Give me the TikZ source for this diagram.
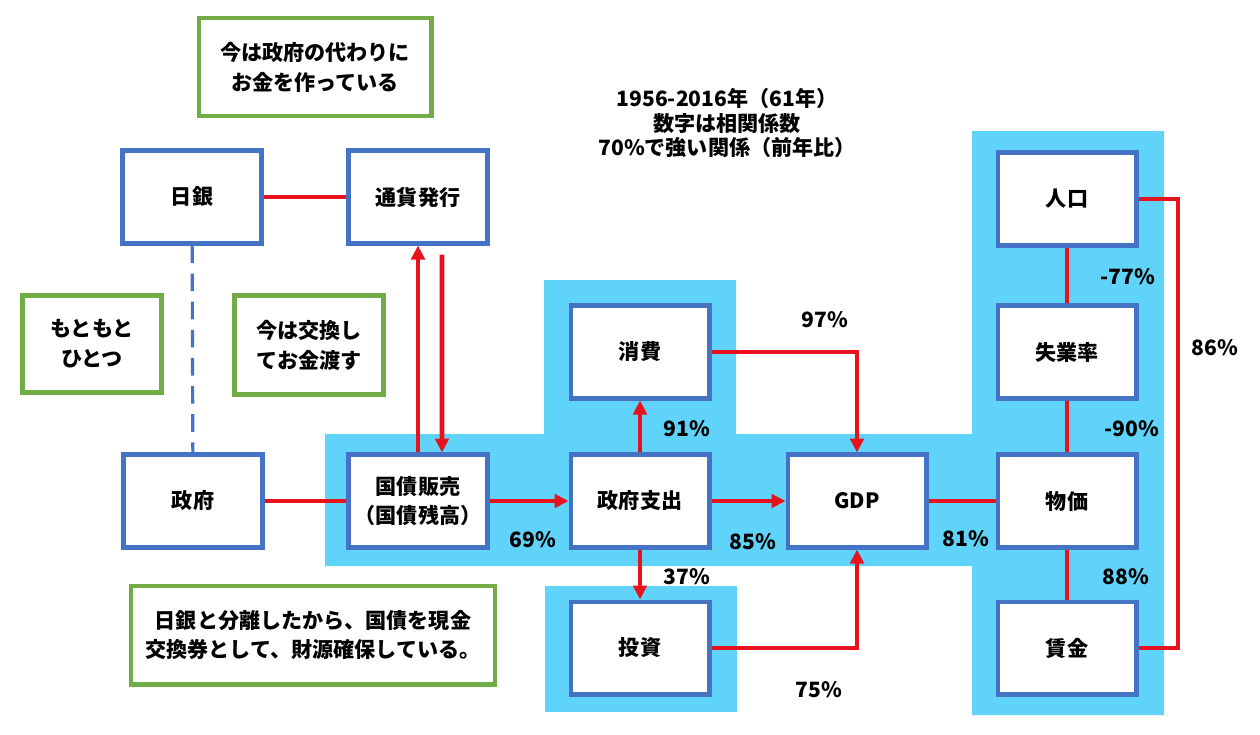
\documentclass[tikz,border=0pt]{standalone}
\usepackage{fontspec}
\setmainfont{Noto Sans CJK JP}
\usetikzlibrary{arrows.meta}
\definecolor{boxblue}{RGB}{68,114,196}
\definecolor{boxgreen}{RGB}{112,173,71}
\definecolor{linered}{RGB}{232,18,28}
\definecolor{bandblue}{RGB}{95,211,250}

\begin{document}
\begin{tikzpicture}[x=0.02cm, y=-0.02cm, thick, >={Triangle[width=0.27cm,length=0.28cm]},
  main/.style = {draw=boxblue, line width=2.3pt, fill=white, minimum width=2.78cm, minimum height=1.86cm, align=center, font=\bfseries\fontsize{12}{17}\selectfont},
  note/.style = {draw=boxgreen, line width=2.3pt, fill=white, align=center, font=\bfseries\fontsize{12}{17}\selectfont},
  link/.style = {draw=linered, line width=2.6pt},
  pct/.style = {font=\bfseries\fontsize{12}{15}\selectfont}]
\useasboundingbox (0,0) rectangle (1260,734);
% blue background
\fill[bandblue] (325,434) -- (544,434) -- (544,280) -- (736,280) -- (736,434) -- (972,434) -- (972,131) -- (1164,131) -- (1164,715) -- (972,715) -- (972,566) -- (325,566) -- cycle;
\fill[bandblue] (545,586) rectangle (737,712);
% boxes
\node[main] (1) at (192,197) {日銀};
\node[main] (2) at (418,197) {通貨発行};
\node[main] (3) at (193,501) {政府};
\node[main] (4) at (418,501) {国債販売\\（国債残高）};
\node[main] (5) at (640,501) {政府支出};
\node[main] (6) at (640,352) {消費};
\node[main] (7) at (640,648) {投資};
\node[main] (8) at (857,501) {GDP};
\node[main] (9) at (1067,501) {物価};
\node[main] (10) at (1067,199) {人口};
\node[main] (11) at (1067,352) {失業率};
\node[main] (12) at (1067,648) {賃金};
% notes
\node[note, minimum width=4.66cm, minimum height=1.96cm] (13) at (315,67) {今は政府の代わりに\\お金を作っている};
\node[note, minimum width=2.78cm, minimum height=1.94cm] (14) at (92,344) {もともと\\ひとつ};
\node[note, minimum width=2.98cm, minimum height=1.98cm] (15) at (309,345) {今は交換し\\てお金渡す};
\node[note, minimum width=7.3cm, minimum height=1.98cm] (16) at (313,635) {日銀と分離したから、国債を現金\\交換券として、財源確保している。};
\node[align=center, font=\bfseries\fontsize{12}{14}\selectfont] (17) at (727,123) {1956-2016年（61年）\\数字は相関係数\\70\%で強い関係（前年比）};
% connectors
\coordinate (c) at (1178,199);
\draw[link] (1) -- (2);
\draw[draw=boxblue, line width=1.8pt, dash pattern=on 10pt off 6pt] (1) -- (3);
\draw[link] (3) -- (4);
\draw[link, ->] (4) -- (2);
\draw[link, ->] ([shift={(24,9)}]2.south) -- ([xshift=0.48cm]4.north);
\draw[link, ->] (4) -- (5);
\draw[link, ->] (5) -- (6);
\draw[link, ->] (5) -- (7);
\draw[link, ->] (5) -- (8);
\draw[link, ->] (6) -| (8);
\draw[link, ->] (7) -| (8);
\draw[link] (8) -- (9);
\draw[link] (10) -- (11);
\draw[link] (11) -- (9);
\draw[link] (9) -- (12);
\draw[link] (10) -- (c) |- (12);
% numbers
\node[pct] at (533,540) {69\%};
\node[pct] at (687,429) {91\%};
\node[pct] at (687,577) {37\%};
\node[pct] at (753,542) {85\%};
\node[pct] at (825,320) {97\%};
\node[pct] at (819,690) {75\%};
\node[pct] at (966,539) {81\%};
\node[pct] at (1128,277) {-77\%};
\node[pct] at (1132,429) {-90\%};
\node[pct] at (1126,577) {88\%};
\node[pct] at (1215,348) {86\%};
\end{tikzpicture}
\end{document}
